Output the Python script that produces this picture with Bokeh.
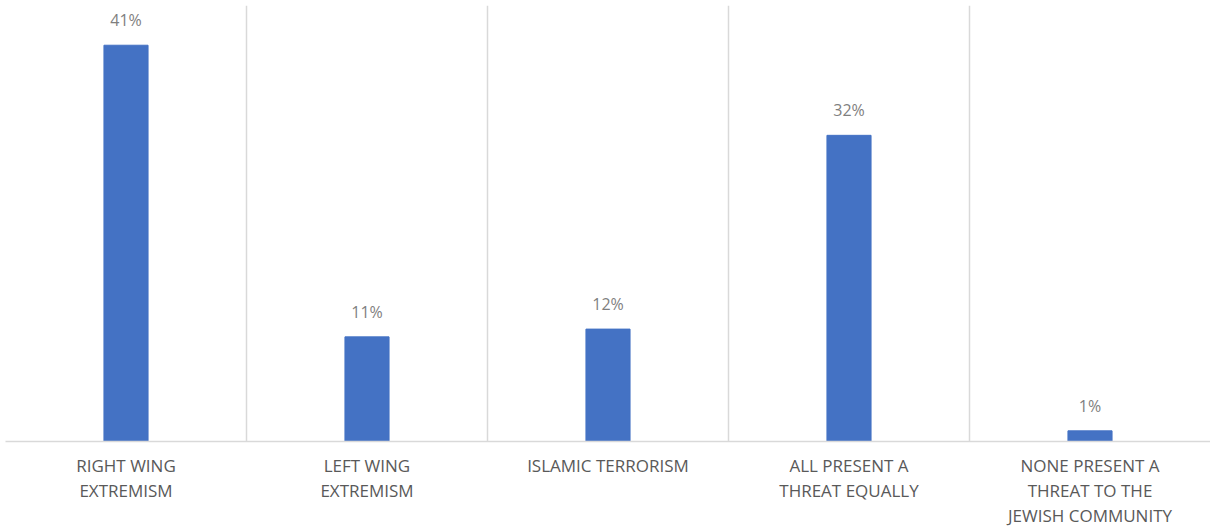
from bokeh.plotting import figure
from bokeh.models import FixedTicker, ColumnDataSource, Range1d, LabelSet
from bokeh.core.properties import value
from bokeh.embed import file_html
from bokeh.resources import INLINE

categories = ["RIGHT WING\nEXTREMISM", "LEFT WING\nEXTREMISM", "ISLAMIC TERRORISM",
              "ALL PRESENT A\nTHREAT EQUALLY", "NONE PRESENT A\nTHREAT TO THE\nJEWISH COMMUNITY"]
values = [40.9, 10.8, 11.6, 31.6, 1.1]
value_labels = ["41%", "11%", "12%", "32%", "1%"]

xs = [i + 0.5 for i in range(len(categories))]
src = ColumnDataSource(dict(x=xs, top=values, lab=value_labels))

p = figure(width=1210, height=531, output_backend="svg", toolbar_location=None,
           x_range=Range1d(0, len(categories)), y_range=Range1d(0, 45))
p.min_border_left = 5
p.min_border_right = 0
p.min_border_top = 5
p.min_border_bottom = 90
p.outline_line_color = None

p.vbar(x="x", top="top", width=0.183, bottom=0, source=src, color="#4472C4")

labels = LabelSet(x="x", y="top", text="lab", source=src, text_align="center",
                  text_baseline="bottom", y_offset=14, text_color="#7f7f7f",
                  text_font_size="16px", text_font=value("Open Sans"))
p.add_layout(labels)

p.yaxis.visible = False
p.ygrid.grid_line_color = None
p.xgrid.ticker = FixedTicker(ticks=list(range(len(categories) + 1)))
p.xgrid.grid_line_color = "#d9d9d9"
p.xgrid.grid_line_width = 1.5

p.xaxis.ticker = FixedTicker(ticks=xs)
p.xaxis.major_label_overrides = {x: c for x, c in zip(xs, categories)}
p.xaxis.major_tick_line_color = None
p.xaxis.major_tick_in = 0
p.xaxis.major_tick_out = 0
p.xaxis.minor_tick_line_color = None
p.xaxis.axis_line_color = "#d9d9d9"
p.xaxis.axis_line_width = 1.5
p.xaxis.major_label_text_color = "#595959"
p.xaxis.major_label_text_font = "Open Sans"
p.xaxis.major_label_text_font_size = "17px"
p.xaxis.major_label_text_line_height = 1.1
p.xaxis.major_label_standoff = 12

open("out.html", "w").write(file_html(p, INLINE))
